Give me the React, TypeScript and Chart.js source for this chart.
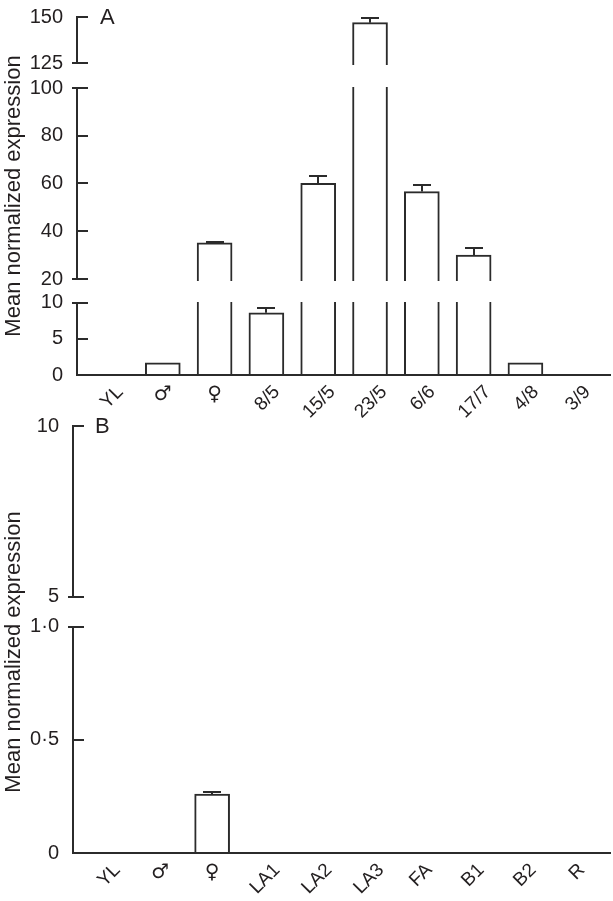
import React, { useEffect, useRef } from 'react';
import { Chart, registerables } from 'chart.js';
Chart.register(...registerables);

const FONT = '"Liberation Sans", Arial, Helvetica, "DejaVu Sans", sans-serif';
const SYM_FONT = '"DejaVu Sans", "Liberation Sans", sans-serif';
const INK = '#231f20';
const LINE = '#2b2b2b';

// ---------- Panel A data ----------
const categoriesA = ['YL', '♂', '♀', '8/5', '15/5', '23/5', '6/6', '17/7', '4/8', '3/9'];
const valuesA = [0, 1.7, 35.1, 8.6, 60.1, 146.9, 56.6, 30.0, 1.7, 0];
const errorsA = [0, 0, 0.6, 0.6, 3.1, 2.7, 2.7, 3.0, 0, 0];
const ticksATop = [125, 150];
const ticksAMid = [20, 40, 60, 80, 100];
const ticksABot = [0, 5, 10];

// ---------- Panel B data ----------
const categoriesB = ['YL', '♂', '♀', 'LA1', 'LA2', 'LA3', 'FA', 'B1', 'B2', 'R'];
const valuesB = [0, 0, 0.26, 0, 0, 0, 0, 0, 0, 0];
const errorsB = [0, 0, 0.008, 0, 0, 0, 0, 0, 0, 0];
const ticksBTop = [5, 10];
const ticksBBot = [0, 0.5, 1.0];

const Y_TITLE = 'Mean normalized expression';
const UPRIGHT = new Set(['♂', '♀']);

type Seg = { id: string; min: number; max: number; lo: number; hi: number; ticks: number[]; px: number };

type PanelCfg = {
  cats: string[];
  vals: number[];
  errs: number[];
  segs: Seg[];
  xMin: number;
  xMax: number;
  padLeft: number;
  padTop: number;
  xHeight: number;
  letter: string;
  letterX: number;
  titleCY: number;
  fmt: (v: number) => string;
};

function buildChart(canvas: HTMLCanvasElement, cfg: PanelCfg) {
  const { cats, vals, errs, segs } = cfg;
  const last = segs.length - 1;
  const segOf = (id: string) => segs.find((s) => s.id === id)!;

  const plugin = {
    id: 'brokenAxis',
    beforeDatasetDraw(chart: any, args: any) {
      const ds = chart.data.datasets[args.index];
      const s = segOf(ds.yAxisID);
      const k = segs.indexOf(s);
      const sc = chart.scales[s.id];
      const ca = chart.chartArea;
      const top = k === 0 ? 0 : Math.round(sc.getPixelForValue(s.hi)) - 1;
      const bottom = k === last ? chart.height : Math.round(sc.getPixelForValue(s.lo)) + 2;
      const ctx = chart.ctx;
      ctx.save();
      ctx.beginPath();
      ctx.rect(ca.left, top, chart.width - ca.left, bottom - top);
      ctx.clip();
    },
    afterDatasetDraw(chart: any) {
      chart.ctx.restore();
    },
    afterDraw(chart: any) {
      const ctx = chart.ctx;
      const ca = chart.chartArea;
      const x0 = Math.round(ca.left);
      ctx.save();
      ctx.strokeStyle = LINE;
      ctx.lineWidth = 2;
      segs.forEach((s, k) => {
        const sc = chart.scales[s.id];
        const yt = Math.round(sc.getPixelForValue(s.hi));
        const yb = Math.round(sc.getPixelForValue(s.lo));
        ctx.beginPath();
        ctx.moveTo(x0, yt - 1);
        ctx.lineTo(x0, yb + 1);
        ctx.stroke();
        s.ticks.forEach((t) => {
          if (k === last && t === s.lo) return;
          const y = Math.round(sc.getPixelForValue(t));
          const isBreak = (k > 0 && t === s.hi) || (k < last && t === s.lo);
          ctx.beginPath();
          ctx.moveTo(isBreak ? x0 - 5 : x0, y);
          ctx.lineTo(x0 + 11, y);
          ctx.stroke();
        });
      });
      // x axis line
      const y0 = Math.round(chart.scales[segs[last].id].getPixelForValue(0));
      ctx.beginPath();
      ctx.moveTo(x0 - 1, y0);
      ctx.lineTo(chart.width - 2, y0);
      ctx.stroke();
      // error bars (upper)
      const xs = chart.scales.x;
      vals.forEach((v, i) => {
        const e = errs[i];
        if (!e) return;
        const s = segs.find((g) => v >= g.lo && v <= g.hi) || segs[last];
        const sc = chart.scales[s.id];
        const x = Math.round(xs.getPixelForValue(i));
        const ya = sc.getPixelForValue(v);
        const yb = Math.round(sc.getPixelForValue(v + e));
        ctx.beginPath();
        ctx.moveTo(x, ya);
        ctx.lineTo(x, yb);
        ctx.moveTo(x - 9, yb);
        ctx.lineTo(x + 9, yb);
        ctx.stroke();
      });
      // category labels (rotated 45°, symbols upright)
      ctx.fillStyle = INK;
      ctx.textAlign = 'center';
      ctx.textBaseline = 'middle';
      cats.forEach((c, i) => {
        const x = xs.getPixelForValue(i);
        if (UPRIGHT.has(c)) {
          ctx.font = `20px ${SYM_FONT}`;
          ctx.fillText(c, x, y0 + 20);
        } else {
          ctx.font = `19px ${FONT}`;
          const L = ctx.measureText(c).width;
          ctx.save();
          ctx.translate(x + 1, y0 + 14 + 0.354 * L);
          ctx.rotate(-Math.PI / 4);
          ctx.fillText(c, 0, 0);
          ctx.restore();
        }
      });
      // panel letter
      ctx.font = `22px ${FONT}`;
      ctx.textAlign = 'left';
      const topPx = chart.scales[segs[0].id].getPixelForValue(segs[0].hi);
      ctx.fillText(cfg.letter, cfg.letterX, topPx + 1);
      // y title
      ctx.font = `22px ${FONT}`;
      ctx.textAlign = 'center';
      ctx.translate(14, cfg.titleCY);
      ctx.rotate(-Math.PI / 2);
      ctx.fillText(Y_TITLE, 0, 0);
      ctx.restore();
    },
  };

  const scales: any = {
    x: {
      type: 'linear',
      position: 'bottom',
      min: cfg.xMin,
      max: cfg.xMax,
      offset: false,
      grid: { display: false, drawTicks: false, offset: false },
      border: { display: false },
      ticks: { display: false, autoSkip: false },
      afterBuildTicks: (sc: any) => {
        sc.ticks = cats.map((_, i) => ({ value: i }));
      },
      afterFit: (sc: any) => {
        sc.height = cfg.xHeight;
      },
    },
  };
  segs.forEach((s, k) => {
    scales[s.id] = {
      type: 'linear',
      position: 'left',
      stack: 'ystack',
      stackWeight: s.px,
      weight: segs.length - k,
      min: s.min,
      max: s.max,
      offset: false,
      grid: { display: false, drawTicks: false },
      border: { display: false },
      ticks: {
        autoSkip: false,
        color: INK,
        padding: 14,
        font: { family: FONT, size: 20 },
        callback: (v: number) => cfg.fmt(v),
      },
      afterBuildTicks: (sc: any) => {
        sc.ticks = s.ticks.map((v) => ({ value: v }));
      },
      afterFit: (sc: any) => {
        sc.width = 60;
      },
    };
  });

  const datasets = segs.map((s) => ({
    data: vals.map((v, i) => ({ x: i, y: v })),
    yAxisID: s.id,
    xAxisID: 'x',
    backgroundColor: '#ffffff',
    borderColor: LINE,
    borderWidth: 2,
    borderSkipped: 'start',
    barThickness: 35,
    grouped: false,
    clip: false,
  }));

  return new Chart(canvas, {
    type: 'bar',
    data: { datasets } as any,
    options: {
      responsive: false,
      animation: false,
      layout: { padding: { left: cfg.padLeft, top: cfg.padTop, right: 0, bottom: 0 } },
      plugins: { legend: { display: false }, tooltip: { enabled: false } },
      scales,
    } as any,
    plugins: [plugin as any],
  });
}

const fmtA = (v: number) => String(v);
const fmtB = (v: number) => (v === 0 ? '0' : v < 2 ? v.toFixed(1).replace('.', '·') : String(v));

export default function App() {
  const refA = useRef<HTMLCanvasElement>(null);
  const refB = useRef<HTMLCanvasElement>(null);

  useEffect(() => {
    const a = buildChart(refA.current!, {
      cats: categoriesA,
      vals: valuesA,
      errs: errorsA,
      segs: [
        { id: 'yTop', min: 111.41, max: 150, lo: 125, hi: 150, ticks: ticksATop, px: 71 },
        { id: 'yMid', min: 10.07, max: 100, lo: 20, hi: 100, ticks: ticksAMid, px: 214.7 },
        { id: 'yBot', min: 0, max: 10, lo: 0, hi: 10, ticks: ticksABot, px: 72.3 },
      ],
      xMin: -0.656,
      xMax: 9.69,
      padLeft: 17,
      padTop: 37,
      xHeight: 65,
      letter: 'A',
      letterX: 100,
      titleCY: 216,
      fmt: fmtA,
    });
    const b = buildChart(refB.current!, {
      cats: categoriesB,
      vals: valuesB,
      errs: errorsB,
      segs: [
        { id: 'yTop', min: 4.123, max: 10, lo: 5, hi: 10, ticks: ticksBTop, px: 201 },
        { id: 'yBot', min: 0, max: 1, lo: 0, hi: 1, ticks: ticksBBot, px: 227 },
      ],
      xMin: -0.676,
      xMax: 9.71,
      padLeft: 13,
      padTop: 25,
      xHeight: 48,
      letter: 'B',
      letterX: 95,
      titleCY: 252,
      fmt: fmtB,
    });
    return () => {
      a.destroy();
      b.destroy();
    };
  }, []);

  return (
    <div style={{ position: 'absolute', left: 0, top: 0, width: 613, height: 901, background: '#fff', overflow: 'hidden' }}>
      <canvas ref={refA} width={613} height={460} style={{ position: 'absolute', left: 0, top: -20 }} />
      <canvas ref={refB} width={613} height={501} style={{ position: 'absolute', left: 0, top: 400 }} />
    </div>
  );
}
